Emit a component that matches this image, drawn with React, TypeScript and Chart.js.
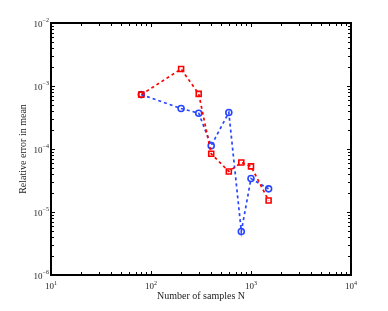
import React, { useEffect, useRef } from "react";
import { Chart, registerables } from "chart.js";

Chart.register(...registerables);

const samplesN = [80, 200, 300, 400, 600, 800, 1000, 1500];
const redErrors = [7.3e-4, 1.86e-3, 7.5e-4, 8.4e-5, 4.4e-5, 6.1e-5, 5.3e-5, 1.52e-5];
const blueErrors = [7.3e-4, 4.4e-4, 3.7e-4, 1.13e-4, 3.8e-4, 4.9e-6, 3.4e-5, 2.33e-5];
const xExponents = [1, 2, 3, 4];
const yExponents = [-6, -5, -4, -3, -2];
const xTitle = "Number of samples N";
const yTitle = "Relative error in mean";

const FONT = '"Liberation Serif", "Times New Roman", serif';

const axesPlugin = {
  id: "matlabAxes",
  afterDraw(chart: any) {
    const { ctx, chartArea } = chart;
    const xs = chart.scales.x;
    const ys = chart.scales.y;
    const { left, right, top, bottom } = chartArea;
    ctx.save();
    ctx.strokeStyle = "#000";
    // box
    ctx.lineWidth = 2;
    ctx.strokeRect(Math.round(left), Math.round(top), Math.round(right - left), Math.round(bottom - top));
    // ticks
    ctx.lineWidth = 1;
    ctx.beginPath();
    const xMaxE = xExponents[xExponents.length - 1];
    for (let e = xExponents[0]; e <= xMaxE; e++) {
      for (let m = 1; m <= 9; m++) {
        const v = m * Math.pow(10, e);
        if (v > Math.pow(10, xMaxE)) break;
        const px = Math.round(xs.getPixelForValue(v)) + 0.5;
        const len = m === 1 ? 4 : 3;
        ctx.moveTo(px, bottom);
        ctx.lineTo(px, bottom - len);
        ctx.moveTo(px, top);
        ctx.lineTo(px, top + len);
      }
    }
    const yMaxE = yExponents[yExponents.length - 1];
    for (let e = yExponents[0]; e <= yMaxE; e++) {
      for (let m = 1; m <= 9; m++) {
        const v = m * Math.pow(10, e);
        if (v > Math.pow(10, yMaxE)) break;
        const py = Math.round(ys.getPixelForValue(v)) + 0.5;
        const len = m === 1 ? 4 : 3;
        ctx.moveTo(left, py);
        ctx.lineTo(left + len, py);
        ctx.moveTo(right, py);
        ctx.lineTo(right - len, py);
      }
    }
    ctx.stroke();

    ctx.fillStyle = "#222";
    const baseFont = `9px ${FONT}`;
    const expFont = `6px ${FONT}`;
    ctx.textBaseline = "middle";
    ctx.textAlign = "left";
    // x labels
    for (const e of xExponents) {
      const px = xs.getPixelForValue(Math.pow(10, e));
      ctx.font = baseFont;
      const bw = ctx.measureText("10").width;
      ctx.font = expFont;
      const ew = ctx.measureText(String(e)).width;
      const start = px - (bw + ew) / 2;
      ctx.font = baseFont;
      ctx.fillText("10", start, bottom + 12);
      ctx.font = expFont;
      ctx.fillText(String(e), start + bw, bottom + 8);
    }
    // y labels
    for (const e of yExponents) {
      const py = ys.getPixelForValue(Math.pow(10, e));
      const expStr = "\u2212" + String(Math.abs(e));
      ctx.font = expFont;
      const ew = ctx.measureText(expStr).width;
      const endX = left - 2;
      ctx.font = baseFont;
      const bw = ctx.measureText("10").width;
      ctx.fillText("10", endX - ew - bw, py + 2);
      ctx.font = expFont;
      ctx.fillText(expStr, endX - ew, py - 3);
    }
    // titles
    ctx.font = `10px ${FONT}`;
    ctx.textAlign = "center";
    ctx.fillText(xTitle, (left + right) / 2, bottom + 21);
    ctx.save();
    ctx.translate(23, (top + bottom) / 2);
    ctx.rotate(-Math.PI / 2);
    ctx.fillText(yTitle, 0, 0);
    ctx.restore();
    ctx.restore();
  },
};

export default function App() {
  const canvasRef = useRef<HTMLCanvasElement>(null);
  useEffect(() => {
    document.body.style.margin = "0";
    const canvas = canvasRef.current!;
    const chart = new Chart(canvas, {
      type: "line",
      data: {
        datasets: [
          {
            label: "red",
            data: samplesN.map((n, i) => ({ x: n, y: redErrors[i] })),
            borderColor: "#ff0000",
            backgroundColor: "rgba(0,0,0,0)",
            borderWidth: 1.7,
            borderDash: [3, 3],
            pointStyle: "rect",
            pointRadius: 3.5,
            pointBorderWidth: 1.6,
            pointBorderColor: "#ff0000",
            pointBackgroundColor: "rgba(0,0,0,0)",
            tension: 0,
          },
          {
            label: "blue",
            data: samplesN.map((n, i) => ({ x: n, y: blueErrors[i] })),
            borderColor: "rgb(40,70,255)",
            backgroundColor: "rgba(0,0,0,0)",
            borderWidth: 1.7,
            borderDash: [3, 3],
            pointStyle: "circle",
            pointRadius: 3,
            pointBorderWidth: 1.6,
            pointBorderColor: "rgb(40,70,255)",
            pointBackgroundColor: "rgba(0,0,0,0)",
            tension: 0,
          },
        ],
      },
      options: {
        animation: false,
        responsive: false,
        devicePixelRatio: 1,
        layout: { padding: { left: 51, top: 23, right: 37, bottom: 36 } },
        plugins: { legend: { display: false }, tooltip: { enabled: false } },
        scales: {
          x: {
            type: "logarithmic",
            min: Math.pow(10, xExponents[0]),
            max: Math.pow(10, xExponents[xExponents.length - 1]),
            display: false,
          },
          y: {
            type: "logarithmic",
            min: Math.pow(10, yExponents[0]),
            max: Math.pow(10, yExponents[yExponents.length - 1]),
            display: false,
          },
        },
      },
      plugins: [axesPlugin],
    });
    return () => chart.destroy();
  }, []);
  return (
    <div style={{ width: 388, height: 311, background: "#fff" }}>
      <canvas ref={canvasRef} width={388} height={311} style={{ display: "block" }} />
    </div>
  );
}
